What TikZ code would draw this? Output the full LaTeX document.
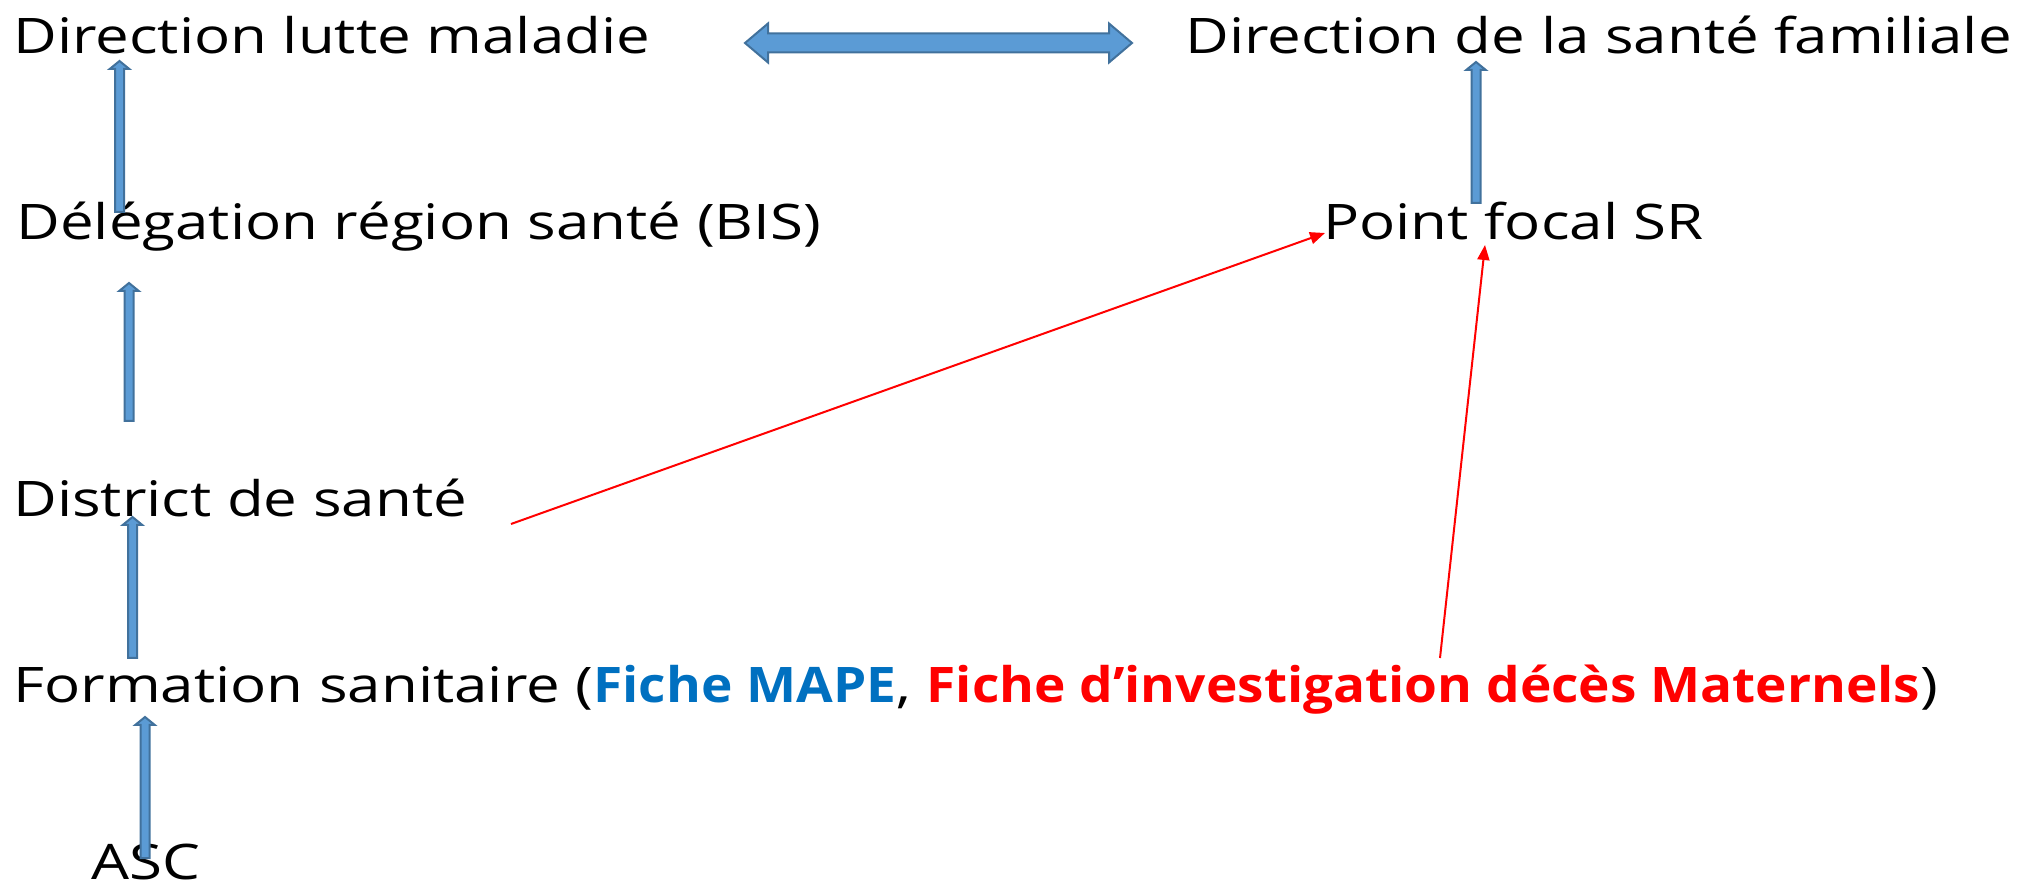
\documentclass[tikz,border=0pt]{standalone}
\usepackage{fontspec}
\setmainfont{Open Sans}[FakeStretch=1.225, BoldFeatures={FakeStretch=1.085}]
\usetikzlibrary{arrows.meta,calc}
\definecolor{blockfill}{HTML}{5B9BD5}
\definecolor{blockline}{HTML}{41719C}
\definecolor{mapeblue}{HTML}{0070C0}
\definecolor{redtxt}{HTML}{FF0000}
\tikzset{
  lbl/.style={anchor=base west, inner sep=0pt, font=\fontsize{24.5pt}{28pt}\selectfont},
  blockarrow/.style={fill=blockfill, draw=blockline, line width=1pt, line join=miter},
  redarrow/.style={draw=redtxt, line width=1pt, -{Triangle[length=7.5pt,width=6pt]}}
}
\newcommand\upblock[2]{%
  \path[blockarrow] let \p1=(#1), \p2=(#2) in
  (\x1-2.25pt,\y1) -- (\x1-2.25pt,\y2-4pt) -- (\x1-4.9pt,\y2-4pt) -- (\x1,\y2)
  -- (\x1+4.9pt,\y2-4pt) -- (\x1+2.25pt,\y2-4pt) -- (\x1+2.25pt,\y1) -- cycle;}
\begin{document}
\begin{tikzpicture}[x=0.5pt,y=-0.5pt]
\useasboundingbox (0,0) rectangle (2018,886);
% texts
\node[lbl] (dlm) at (13,54) {Direction lutte maladie};
\node[lbl] (dsf) at (1185,54) {Direction de la santé familiale};
\node[lbl] (drs) at (16,240) {Délégation région santé (BIS)};
\node[lbl] (pfs) at (1323,240) {Point focal SR};
\node[lbl] (dis) at (13,517) {District de santé};
\node[lbl] (fs) at (13,703) {Formation sanitaire (\textbf{\color{mapeblue}Fiche MAPE}, \textbf{\color{redtxt}Fiche d’investigation décès Maternels})};
\node[lbl] (asc) at (91,879) {ASC};
% blue arrow ends
\coordinate (a1b) at (119.5,212); \coordinate (a1t) at (119.5,61);
\coordinate (a2b) at (129,421);   \coordinate (a2t) at (129,283);
\coordinate (a3b) at (132.5,658); \coordinate (a3t) at (132.5,517);
\coordinate (a4b) at (145,858);   \coordinate (a4t) at (145,717);
\coordinate (a5b) at (1476,203);  \coordinate (a5t) at (1476,62);
\coordinate (dal) at (745,43);    \coordinate (dar) at (1132,43);
\upblock{a1b}{a1t}
\upblock{a2b}{a2t}
\upblock{a3b}{a3t}
\upblock{a4b}{a4t}
\upblock{a5b}{a5t}
\path[blockarrow] let \p1=(dal), \p2=(dar) in
  (\x1,\y1) -- (\x1+11.5pt,\y1+9.75pt) -- (\x1+11.5pt,\y1+4.75pt) -- (\x2-11.5pt,\y1+4.75pt)
  -- (\x2-11.5pt,\y1+9.75pt) -- (\x2,\y1) -- (\x2-11.5pt,\y1-9.75pt) -- (\x2-11.5pt,\y1-4.75pt)
  -- (\x1+11.5pt,\y1-4.75pt) -- (\x1+11.5pt,\y1-9.75pt) -- cycle;
% red arrows
\coordinate (r1s) at (511,524); \coordinate (r1e) at (1325,233);
\coordinate (r2s) at (1440,658); \coordinate (r2e) at (1485,245);
\draw[redarrow] (r1s) -- (r1e);
\draw[redarrow] (r2s) -- (r2e);
\end{tikzpicture}
\end{document}
